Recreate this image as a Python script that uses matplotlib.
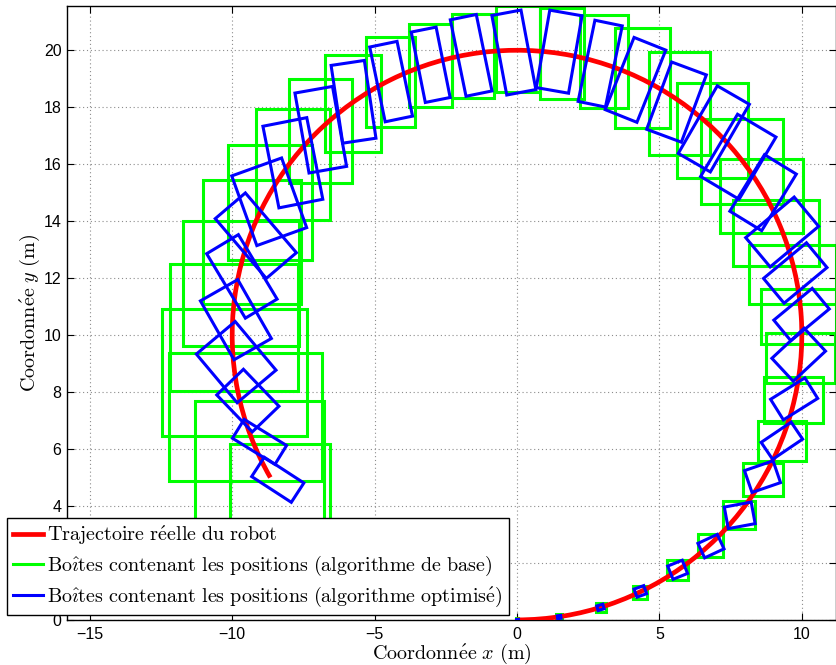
import numpy as np
import matplotlib
matplotlib.use("Agg")
import matplotlib.pyplot as plt
from matplotlib.patches import Rectangle, Arc
from matplotlib.lines import Line2D

# true trajectory: arc of a circle (centre, radius, angles in degrees)
traj_center = (0.0, 10.0)
traj_radius = 10.0
traj_start, traj_end = -90.0, 210.0

# blue boxes (optimised algorithm): centre, long side, short side, angle of long side (deg)
blue_cx = [0.0, 1.48, 2.93, 4.33, 5.64, 6.81, 7.82, 8.62, 9.30, 9.73, 9.89, 9.99,
           9.77, 9.31, 8.64, 7.77, 6.91, 5.60, 4.16, 2.92, 1.48, -0.11, -1.61, -3.03,
           -4.42, -5.74, -6.89, -7.87, -8.70, -9.17, -9.66, -9.87, -9.86, -9.45, -9.04, -8.40]
blue_cy = [0.0, 0.10, 0.44, 1.00, 1.76, 2.59, 3.67, 5.03, 6.29, 7.76, 9.31, 10.72,
           12.18, 13.62, 15.00, 16.26, 17.24, 18.18, 18.96, 19.53, 19.95, 19.92, 19.82, 19.49,
           18.90, 18.19, 17.21, 16.05, 14.68, 13.49, 12.06, 10.54, 9.05, 7.70, 6.25, 4.92]
blue_len = [0.06, 0.12, 0.22, 0.36, 0.55, 0.75, 0.96, 1.06, 1.27, 1.42, 1.55, 1.75,
            1.96, 2.22, 2.33, 2.54, 2.74, 2.52, 2.73, 2.91, 2.76, 2.84, 2.74, 2.52,
            2.68, 2.76, 2.85, 2.92, 2.60, 2.76, 2.64, 2.38, 2.23, 1.80, 1.75, 1.66]
blue_wid = [0.06, 0.10, 0.17, 0.30, 0.50, 0.56, 0.77, 0.81, 0.72, 0.85, 1.10, 0.94,
            1.13, 1.34, 1.31, 1.57, 1.30, 1.30, 1.20, 0.98, 1.15, 1.04, 0.93, 0.89,
            0.98, 1.18, 1.34, 1.57, 1.86, 1.39, 1.30, 1.51, 1.78, 1.30, 0.78, 0.81]
blue_ang = [0, 8, 17, 20, 22, 25, 10.5, 19, 34, 32, 43, 39.6,
            39.7, 39.9, 58.5, 59.3, 60, 69.6, 68.2, 78.3, 80.1, 100.6, 101.6, 101.3,
            101.7, 98.5, 100, 101.1, 109.8, 130.5, 121, 119.7, 130, 133.9, 148.4, 147]

# green boxes (base algorithm): axis-aligned limits
green_xmin = [-0.04, 1.38, 2.76, 4.07, 5.26, 6.34, 7.25, 7.93, 8.46, 8.68, 8.75, 8.56,
              8.13, 7.58, 7.14, 6.46, 5.61, 4.62, 3.45, 2.20, 0.82, -0.73, -2.28, -3.80,
              -5.29, -6.73, -8.01, -9.15, -10.15, -11.03, -11.71, -12.19, -12.48, -12.22, -11.29, -10.08]
green_xmax = [0.04, 1.58, 3.12, 4.58, 5.99, 7.25, 8.36, 9.33, 10.15, 10.76, 11.17, 11.20,
              11.20, 10.61, 10.03, 9.33, 8.10, 6.76, 5.36, 3.88, 2.36, 0.82, -0.80, -2.28,
              -3.57, -4.77, -5.79, -6.58, -7.20, -7.57, -7.66, -7.68, -7.39, -6.84, -6.76, -6.58]
green_ymin = [0.0, 0.02, 0.29, 0.74, 1.40, 2.20, 3.20, 4.34, 5.57, 6.90, 8.31, 9.69,
              11.10, 12.41, 13.58, 14.61, 15.52, 16.34, 17.28, 17.98, 18.30, 18.53, 18.32, 18.00,
              17.30, 16.42, 15.34, 14.03, 12.64, 11.10, 9.63, 8.02, 6.47, 4.89, 3.00, 2.50]
green_ymax = [0.05, 0.20, 0.58, 1.20, 2.10, 3.02, 4.17, 5.51, 6.99, 8.52, 10.08, 11.63,
              13.15, 14.73, 16.19, 17.60, 18.85, 19.94, 20.79, 21.23, 21.50, 21.54, 21.28, 20.91,
              20.46, 19.82, 19.00, 17.95, 16.66, 15.45, 14.00, 12.50, 10.92, 9.36, 7.70, 6.16]

legend_labels = [
    r"$\mathrm{Trajectoire\ r\acute{e}elle\ du\ robot}$",
    r"$\mathrm{Bo\hat{\imath}tes\ contenant\ les\ positions\ (algorithme\ de\ base)}$",
    r"$\mathrm{Bo\hat{\imath}tes\ contenant\ les\ positions\ (algorithme\ optimis\acute{e})}$",
]

plt.rcParams["mathtext.fontset"] = "cm"
plt.rcParams["font.family"] = ["Liberation Sans", "DejaVu Sans"]

fig = plt.figure(figsize=(8.37, 6.65), dpi=100)
ax = fig.add_axes([67 / 837, 45 / 665, 769 / 837, 614 / 665])

for x0, x1, y0, y1 in zip(green_xmin, green_xmax, green_ymin, green_ymax):
    ax.add_patch(Rectangle((x0, y0), x1 - x0, y1 - y0, fill=False,
                           edgecolor=(0, 1, 0), lw=2.2, zorder=2))

ax.add_patch(Arc(traj_center, 2 * traj_radius, 2 * traj_radius,
                 theta1=traj_start, theta2=traj_end, color="red", lw=3.4, zorder=3))

for cx, cy, L, W, a in zip(blue_cx, blue_cy, blue_len, blue_wid, blue_ang):
    ax.add_patch(Rectangle((cx - L / 2, cy - W / 2), L, W, angle=a,
                           rotation_point="center", fill=False,
                           edgecolor=(0, 0, 1), lw=2.2, zorder=4))

ax.set_xlim(-15.8, 11.2)
ax.set_ylim(0, 21.55)
ax.set_aspect("equal", adjustable="box")
ax.set_xticks([-15, -10, -5, 0, 5, 10])
ax.set_yticks(np.arange(0, 21, 2))
ax.grid(True, color="0.55", linestyle=(0, (1, 2.5)), lw=0.8)
ax.set_axisbelow(True)
ax.tick_params(direction="in", length=5, width=0.8, top=True, right=True,
               labelsize=11.5)
ax.tick_params(axis="x", pad=5)
ax.tick_params(axis="y", pad=4)
for s in ax.spines.values():
    s.set_linewidth(1.0)

ax.set_xlabel(r"$\mathrm{Coordonn\acute{e}e}\ x\ \mathrm{(m)}$", fontsize=14.5, labelpad=0)
ax.set_ylabel(r"$\mathrm{Coordonn\acute{e}e}\ y\ \mathrm{(m)}$", fontsize=14.5, labelpad=1)

handles = [Line2D([], [], color="red", lw=3.4),
           Line2D([], [], color=(0, 1, 0), lw=2.2),
           Line2D([], [], color=(0, 0, 1), lw=2.2)]
leg = ax.legend(handles, legend_labels, loc="lower left",
                bbox_to_anchor=(7 / 837, 50 / 665), bbox_transform=fig.transFigure,
                borderaxespad=0, fontsize=14.5, frameon=True, fancybox=False,
                framealpha=1, edgecolor="black", handlelength=1.5,
                handletextpad=0.2, labelspacing=0.33, borderpad=0.3)
leg.get_frame().set_linewidth(1.0)
leg.set_zorder(10)

fig.savefig("out.png", dpi=100)
